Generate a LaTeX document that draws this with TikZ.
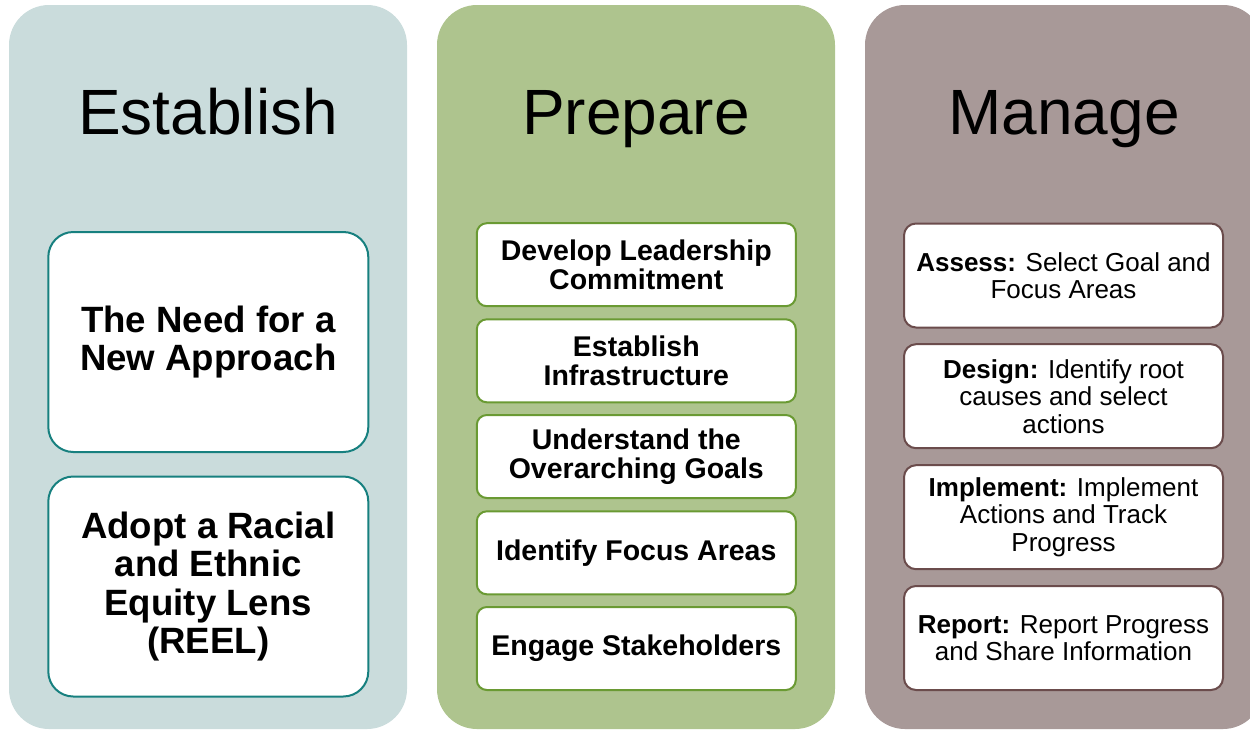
\documentclass[tikz,border=0pt]{standalone}
\usepackage{fontspec}
\setmainfont{Liberation Sans}
\definecolor{estpanel}{HTML}{CADCDC}
\definecolor{preppanel}{HTML}{AEC48E}
\definecolor{manpanel}{HTML}{A89998}
\definecolor{estline}{HTML}{17807F}
\definecolor{prepline}{HTML}{6A9A33}
\definecolor{manline}{HTML}{6B4C4C}
\tikzset{
  panel/.style={rounded corners=40pt},
  titletext/.style={anchor=base, inner sep=0pt, font=\fontsize{64}{70}\selectfont},
  ebox/.style={draw=estline, fill=white, line width=2pt, rounded corners=25pt,
    minimum width=320pt, minimum height=220pt, inner sep=0pt, align=center,
    font=\bfseries\fontsize{36.6}{38.6}\selectfont},
  pbox/.style={draw=prepline, fill=white, line width=2pt, rounded corners=10pt,
    minimum width=319pt, minimum height=83pt, inner sep=0pt, align=center,
    font=\bfseries\fontsize{28.5}{29}\selectfont},
  mbox/.style={draw=manline, fill=white, line width=2pt, rounded corners=12pt,
    minimum width=319pt, minimum height=104pt, inner sep=0pt, align=center,
    font=\fontsize{26}{27.5}\selectfont},
}
\begin{document}
\begin{tikzpicture}[x=1pt,y=-1pt]
\useasboundingbox (0,0) rectangle (1250,729);
\begin{scope}
\clip (0,0) rectangle (1250,729);
\fill[estpanel, panel] (9,5) rectangle (407,729);
\fill[preppanel, panel] (437,5) rectangle (835,729);
\fill[manpanel, panel] (865,5) rectangle (1263,729);
\end{scope}

\node[titletext] (t1) at (208,134) {Establish};
\node[titletext] (t2) at (636,134) {Prepare};
\node[titletext] (t3) at (1064,134) {Manage};

\node[ebox] (e1) at (208.3,342) {The Need for a\\New Approach};
\node[ebox] (e2) at (208.3,586.5) {Adopt a Racial\\and Ethnic\\Equity Lens\\(REEL)};

\node[pbox] (p1) at (636.3,264.7) {Develop Leadership\\Commitment};
\node[pbox] (p2) at (636.3,360.8) {Establish\\Infrastructure};
\node[pbox] (p3) at (636.3,456.5) {Understand the\\Overarching Goals};
\node[pbox] (p4) at (636.3,552.8) {Identify Focus Areas};
\node[pbox] (p5) at (636.3,648.5) {Engage Stakeholders};

\node[mbox] (m1) at (1063.5,275.5) {\textbf{Assess:} Select Goal and\\Focus Areas};
\node[mbox] (m2) at (1063.5,396.2) {\textbf{Design:} Identify root\\causes and select\\actions};
\node[mbox] (m3) at (1063.5,517.2) {\textbf{Implement:} Implement\\Actions and Track\\Progress};
\node[mbox] (m4) at (1063.5,638) {\textbf{Report:} Report Progress\\and Share Information};
\end{tikzpicture}
\end{document}
